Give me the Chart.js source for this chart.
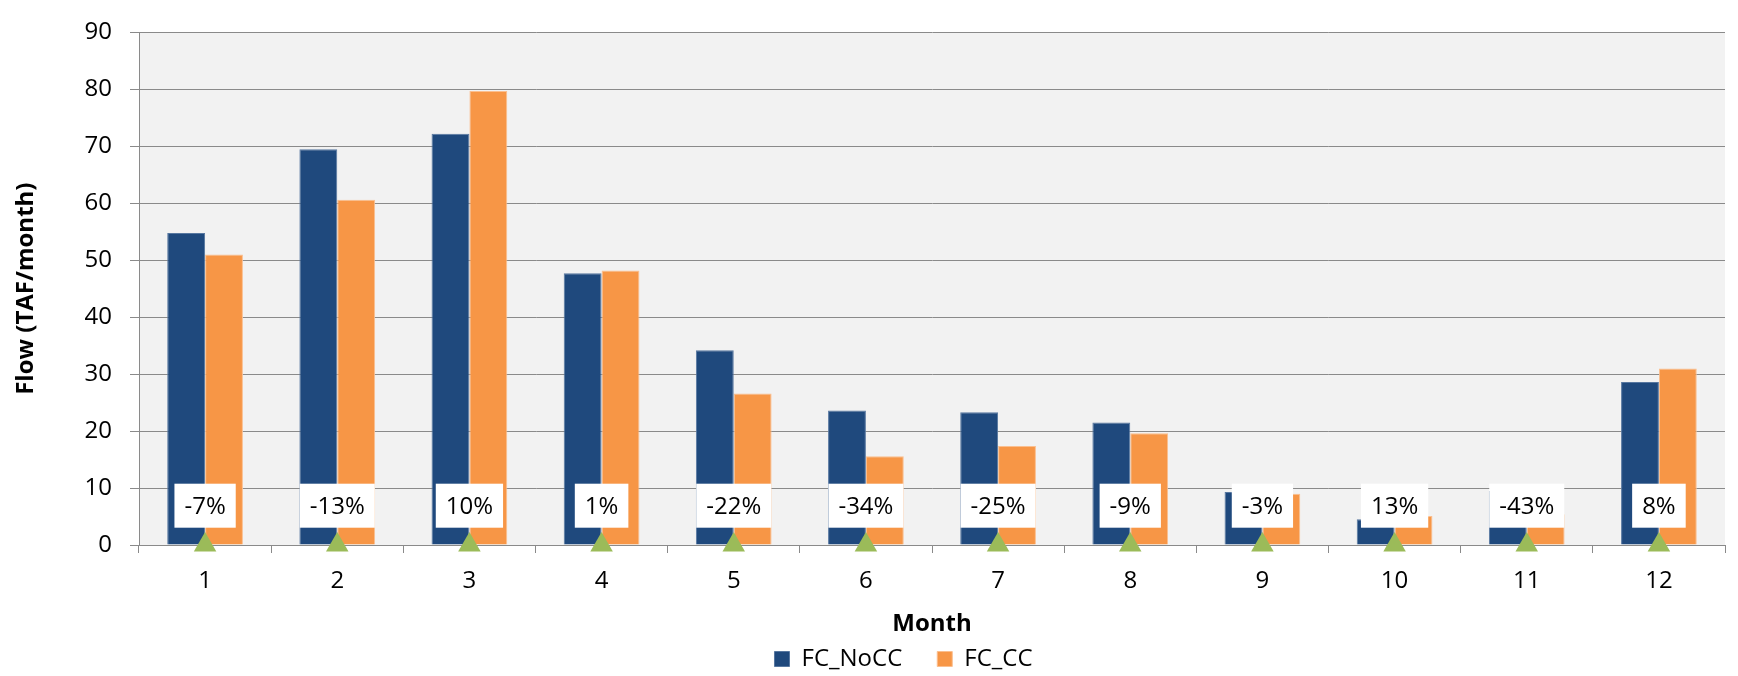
<!DOCTYPE html>
<html>
<head>
<meta charset="utf-8">
<script src="https://cdn.jsdelivr.net/npm/chart.js@4"></script>
<style>
  html, body { margin: 0; padding: 0; background: #fff; }
  #wrap { width: 1738px; height: 676px; }
</style>
</head>
<body>
<div id="wrap"><canvas id="myChart" width="1738" height="676"></canvas></div>
<script>
const months = ['1', '2', '3', '4', '5', '6', '7', '8', '9', '10', '11', '12'];
const fcNoCC = [54.8, 69.5, 72.2, 47.7, 34.2, 23.6, 23.3, 21.5, 9.3, 4.5, 9.5, 28.6];
const fcCC = [51.0, 60.6, 79.7, 48.2, 26.6, 15.6, 17.4, 19.6, 9.0, 5.1, 5.4, 31.0];
const changeLabels = ['-7%', '-13%', '10%', '1%', '-22%', '-34%', '-25%', '-9%', '-3%', '13%', '-43%', '8%'];
const markers = [0, 0, 0, 0, 0, 0, 0, 0, 0, 0, 0, 0];
const yTicks = [0, 10, 20, 30, 40, 50, 60, 70, 80, 90];

const gridGray = '#8a8a8a';
const labelLevel = 6.9; // where the % boxes sit, in axis units

Chart.defaults.font.family = 'Open Sans';
Chart.defaults.font.size = 24;
Chart.defaults.color = '#000';

// grey plot area
const plotBg = {
  id: 'plotBg',
  beforeDraw(chart) {
    const a = chart.chartArea, ctx = chart.ctx;
    ctx.save();
    ctx.fillStyle = '#f2f2f2';
    ctx.fillRect(a.left, a.top, a.right - a.left, a.bottom - a.top);
    ctx.restore();
  }
};

// legend sits a bit right of centre in the original
const legendShift = {
  id: 'legendShift',
  afterLayout(chart) {
    chart.legend.left += 39;
    chart.legend.right += 39;
  }
};

// white % change boxes
const changeBoxes = {
  id: 'changeBoxes',
  afterDatasetsDraw(chart) {
    const ctx = chart.ctx;
    const x = chart.scales.x, y = chart.scales.y;
    const cy = y.getPixelForValue(labelLevel);
    ctx.save();
    ctx.font = '24px "Open Sans"';
    ctx.textAlign = 'center';
    ctx.textBaseline = 'middle';
    changeLabels.forEach((t, i) => {
      const cx = x.getPixelForValue(i);
      const w = ctx.measureText(t).width + 20;
      ctx.fillStyle = '#fff';
      ctx.fillRect(cx - w / 2, cy - 22, w, 44);
      ctx.fillStyle = '#000';
      ctx.fillText(t, cx, cy + 1);
    });
    ctx.restore();
  }
};

new Chart(document.getElementById('myChart'), {
  type: 'bar',
  data: {
    labels: months,
    datasets: [{
        type: 'line',
        label: 'marker',
        data: markers,
        showLine: false,
        pointStyle: 'triangle',
        pointRadius: 13,
        pointBackgroundColor: '#9bbb59',
        pointBorderWidth: 0,
        clip: false,
        order: 0
      }, {
        label: 'FC_NoCC',
        data: fcNoCC,
        backgroundColor: '#1f497d',
        borderColor: '#5777a0',
        borderWidth: 1,
        order: 1
      }, {
        label: 'FC_CC',
        data: fcCC,
        backgroundColor: '#f79646',
        borderColor: '#fbbf8f',
        borderWidth: 1,
        order: 1
      }
    ]
  },
  options: {
    responsive: false,
    animation: false,
    categoryPercentage: 0.573,
    barPercentage: 1.0,
    layout: { padding: { top: 20, right: 9, bottom: -5, left: 0 } },
    plugins: {
      tooltip: { enabled: false },
      legend: {
        position: 'bottom',
        labels: {
          boxWidth: 15,
          boxHeight: 15,
          padding: 35,
          font: { size: 24 },
          filter: (item) => item.text !== 'marker'
        }
      }
    },
    scales: {
      x: {
        grid: { drawOnChartArea: false, color: gridGray, tickLength: 8 },
        border: { color: gridGray, width: 1 },
        ticks: { font: { size: 24 }, padding: 13.5 },
        title: {
          display: true,
          text: 'Month',
          font: { size: 24, weight: 'bold' },
          padding: { top: 0, bottom: -27 }
        },
        afterFit(scale) { scale.height = 67; }
      },
      y: {
        min: 0,
        max: 90,
        afterBuildTicks(scale) { scale.ticks = yTicks.map(v => ({ value: v })); },
        grid: { color: gridGray, tickLength: 9 },
        border: { color: gridGray, width: 1 },
        ticks: { font: { size: 24 }, padding: 18 },
        title: {
          display: true,
          text: 'Flow (TAF/month)',
          font: { size: 24, weight: 'bold' },
          padding: { top: 12, bottom: 0 }
        },
        afterFit(scale) { scale.width = 139; }
      }
    }
  },
  plugins: [plotBg, legendShift, changeBoxes]
});
</script>
</body>
</html>
